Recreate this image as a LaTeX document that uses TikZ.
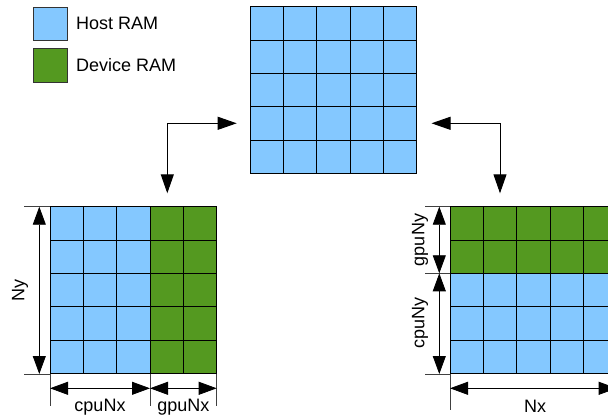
\documentclass[tikz,border=0pt]{standalone}
\usepackage{fontspec}
\setmainfont{Liberation Sans}
\usetikzlibrary{arrows.meta}
\definecolor{hostblue}{RGB}{132,200,255}
\definecolor{devgreen}{RGB}{84,153,32}
\begin{document}
\begin{tikzpicture}[x=1pt,y=-1pt,
  cell/.style={draw=black,line width=1pt},
  gridbox/.style={draw=none,minimum width=166.67pt,minimum height=166.67pt,inner sep=0pt,anchor=north west},
  conn/.style={line width=1pt,{Triangle[length=19pt,width=13pt]}-{Triangle[length=19pt,width=13pt]}},
  dimarrow/.style={line width=0.8pt,{Triangle[length=18pt,width=13pt]}-{Triangle[length=18pt,width=13pt]}},
  extline/.style={line width=0.8pt,draw=black!75},
  lbl/.style={font=\fontsize{18}{20}\selectfont,inner sep=0pt},
  legbox/.style={draw=black!80,line width=1pt,minimum width=34pt,minimum height=33.3pt,inner sep=0pt,anchor=north west}]
\useasboundingbox (0,0) rectangle (608,417);
\clip (0,0) rectangle (608,417);
\def\h{33.333}
% legend
\node[legbox,fill=hostblue] (lhost) at (33.3,6.7) {};
\node[legbox,fill=devgreen] (ldev) at (33.3,48.3) {};
\node[lbl,anchor=west] (thost) at (76,23.3) {Host RAM};
\node[lbl,anchor=west] (tdev) at (76,65) {Device RAM};
% grids (named frames)
\node[gridbox] (top) at (250,6.7) {};
\node[gridbox] (left) at (50,206.7) {};
\node[gridbox] (right) at (450,206.7) {};
% top grid cells
\foreach \c in {0,...,4}
  \foreach \r in {0,...,4}
    \draw[cell,fill=hostblue] (250+\c*\h,6.7+\r*\h) rectangle ++(\h,\h);
% left grid cells
\foreach \c in {0,...,4}
  \foreach \r in {0,...,4}{
    \ifnum\c<3 \def\col{hostblue}\else \def\col{devgreen}\fi
    \draw[cell,fill=\col] (50+\c*\h,206.7+\r*\h) rectangle ++(\h,\h);}
% right grid cells
\foreach \c in {0,...,4}
  \foreach \r in {0,...,4}{
    \ifnum\r<2 \def\col{devgreen}\else \def\col{hostblue}\fi
    \draw[cell,fill=\col] (450+\c*\h,206.7+\r*\h) rectangle ++(\h,\h);}
% connectors
\coordinate (la) at (236.7,123.3);
\coordinate (lb) at (167.3,193.3);
\coordinate (ra) at (431.5,123.3);
\coordinate (rb) at (500,193.3);
\draw[conn] (la) -| (lb);
\draw[conn] (ra) -| (rb);
% left dimensions
\draw[extline] (24,206.7) -- (50,206.7);
\draw[extline] (24,374) -- (50,374);
\draw[extline] (50,374) -- (50,406);
\draw[extline] (150,374) -- (150,406);
\draw[extline] (216.7,374) -- (216.7,406);
\coordinate (ny1) at (39.3,206.7);
\coordinate (ny2) at (39.3,374);
\draw[dimarrow] (ny1) -- (ny2);
\coordinate (cx1) at (50,388.3);
\coordinate (cx2) at (150,388.3);
\coordinate (gx2) at (216.7,388.3);
\draw[dimarrow] (cx1) -- (cx2);
\draw[dimarrow] (cx2) -- (gx2);
\node[lbl,rotate=90] (tny) at (20,290) {Ny};
\node[lbl,anchor=base] (tcx) at (100,411.7) {cpuNx};
\node[lbl,anchor=base] (tgx) at (183.3,411.7) {gpuNx};
% right dimensions
\draw[extline] (425,206.7) -- (450,206.7);
\draw[extline] (425,273.3) -- (450,273.3);
\draw[extline] (425,374) -- (450,374);
\draw[extline] (450,374) -- (450,410);
\coordinate (gy1) at (439.3,206.7);
\coordinate (gy2) at (439.3,273.3);
\coordinate (gy3) at (439.3,374);
\draw[dimarrow] (gy1) -- (gy2);
\draw[dimarrow] (gy2) -- (gy3);
\coordinate (nx1) at (450,388.3);
\coordinate (nx2) at (616.7,388.3);
\draw[dimarrow] (nx1) -- (nx2);
\node[lbl,rotate=90] (tgy) at (420,240) {gpuNy};
\node[lbl,rotate=90] (tcy) at (420,323.3) {cpuNy};
\node[lbl,anchor=base] (tnx) at (535,412) {Nx};
\end{tikzpicture}
\end{document}
